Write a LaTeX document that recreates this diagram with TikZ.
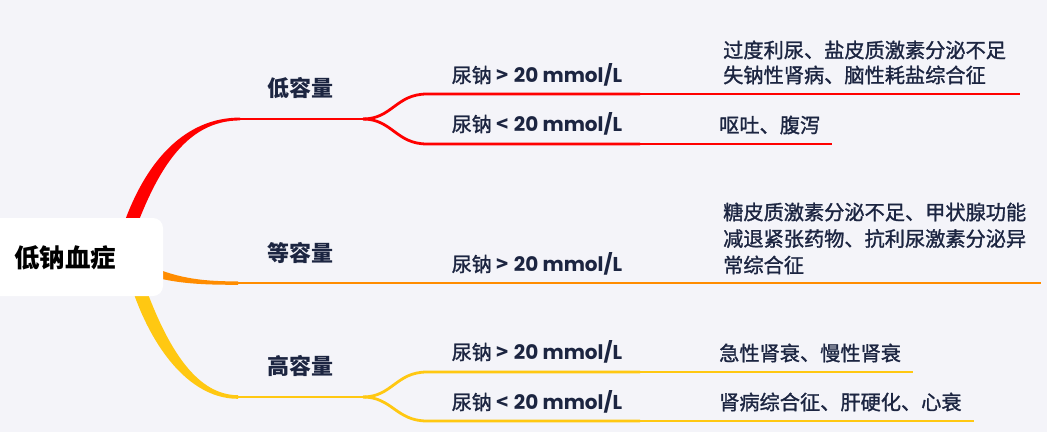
\documentclass[tikz,border=0pt]{standalone}
\usepackage{fontspec}
\setmainfont{Noto Sans CJK SC}
\newfontfamily\pop{Poppins}
\newfontfamily\medfont{Noto Sans CJK SC}[FakeBold=1.3]
\definecolor{bg}{HTML}{F4F4F9}
\definecolor{ink}{HTML}{1C2541}
\definecolor{cred}{HTML}{FF0000}
\definecolor{corange}{HTML}{FF8C00}
\definecolor{cyellow}{HTML}{FFC812}
\tikzset{
  mainln/.style={line width=2.8pt, line cap=butt},
  thinln/.style={line width=1.3pt, line cap=butt},
  lvltwo/.style={font=\fontsize{22}{26}\selectfont\bfseries, text=ink, inner sep=0pt},
  lbl/.style={font=\fontsize{20}{24}\selectfont, text=ink, inner sep=0pt},
  note/.style={font=\fontsize{20.2}{26}\selectfont\medfont, text=ink, inner sep=0pt, anchor=west, align=left},
  rootbox/.style={fill=white, rounded corners=10pt, minimum width=183pt, minimum height=78pt, inner sep=0pt}
}
\newcommand{\urina}[1]{{\medfont 尿钠}\hspace{5pt}{\bfseries #1}\hspace{5pt}{\pop\bfseries 20 mmol/L}}
\begin{document}
\begin{tikzpicture}[x=1pt,y=-1pt]
\fill[bg] (0,0) rectangle (1047,432);
\useasboundingbox (0,0) rectangle (1047,432);

% ---------- key points ----------
\coordinate (R0) at (236,119);
\coordinate (R1) at (363,119);
\coordinate (Ra) at (427,94);
\coordinate (Ra2) at (640,94);
\coordinate (Ra3) at (1020,94);
\coordinate (Rb) at (427,144);
\coordinate (Rb2) at (640,144);
\coordinate (Rb3) at (832,144);

\coordinate (O0) at (236,283);
\coordinate (O2) at (640,283);
\coordinate (O3) at (1041,283);

\coordinate (Y0) at (236,397);
\coordinate (Y1) at (363,397);
\coordinate (Ya) at (427,372);
\coordinate (Ya2) at (640,372);
\coordinate (Ya3) at (913,372);
\coordinate (Yb) at (427,421);
\coordinate (Yb2) at (640,421);
\coordinate (Yb3) at (974,421);

% ---------- tapered main branches ----------
\fill[cred] (113,260) .. controls (137,162) and (185,117.4) .. (240,117.6)
  -- (240,120.4) .. controls (186,120.6) and (154,169) .. (125,260) -- cycle;
\fill[corange] (150,266) .. controls (180,279) and (205,281.4) .. (238,281.4)
  -- (238,284.8) .. controls (205,284.8) and (178,284) .. (150,276) -- cycle;
\fill[cyellow] (124,260) .. controls (141,333) and (183,398.9) .. (238,398.8)
  -- (238,395.2) .. controls (188,395.2) and (158,327) .. (136,260) -- cycle;

% ---------- red ----------
\draw[mainln, cred] (R0) -- (R1);
\draw[mainln, cred] (R1) .. controls (392,119) and (396,94) .. (Ra) -- (Ra2);
\draw[mainln, cred] (R1) .. controls (392,119) and (396,144) .. (Rb) -- (Rb2);
\draw[thinln, cred] (Ra2) -- (Ra3);
\draw[thinln, cred] (Rb2) -- (Rb3);

% ---------- orange ----------
\draw[mainln, corange] (O0) -- (O2);
\draw[thinln, corange] (O2) -- (O3);

% ---------- yellow ----------
\draw[mainln, cyellow] (Y0) -- (Y1);
\draw[mainln, cyellow] (Y1) .. controls (392,397) and (396,372) .. (Ya) -- (Ya2);
\draw[mainln, cyellow] (Y1) .. controls (392,397) and (396,421) .. (Yb) -- (Yb2);
\draw[thinln, cyellow] (Ya2) -- (Ya3);
\draw[thinln, cyellow] (Yb2) -- (Yb3);

% ---------- root ----------
\node[rootbox] (root) at (71.5,257) {};
\node[font=\fontsize{25.5}{30}\selectfont\bfseries, text=black, inner sep=0pt, anchor=west] (roottext) at (14,258) {低钠血症};

% ---------- level-2 labels ----------
\node[lvltwo] (low) at (300,88) {低容量};
\node[lvltwo] (iso) at (300,253) {等容量};
\node[lvltwo] (high) at (300,366) {高容量};

% ---------- urine sodium labels ----------
\node[lbl] (la) at (537,75) {\urina{>}};
\node[lbl] (lb) at (537,124) {\urina{<}};
\node[lbl] (lc) at (537,264) {\urina{>}};
\node[lbl] (ld) at (537,352) {\urina{>}};
\node[lbl] (le) at (537,402) {\urina{<}};

% ---------- notes ----------
\node[note, font=\fontsize{20.2}{25}\selectfont\medfont] (na) at (723,62.5) {过度利尿、盐皮质激素分泌不足\\失钠性肾病、脑性耗盐综合征};
\node[note] (nb) at (719,125) {呕吐、腹泻};
\node[note, font=\fontsize{20.2}{26.5}\selectfont\medfont] (nc) at (723,238.5) {糖皮质激素分泌不足、甲状腺功能\\减退紧张药物、抗利尿激素分泌异\\常综合征};
\node[note] (nd) at (719,353) {急性肾衰、慢性肾衰};
\node[note] (ne) at (719,402) {肾病综合征、肝硬化、心衰};
\end{tikzpicture}
\end{document}
